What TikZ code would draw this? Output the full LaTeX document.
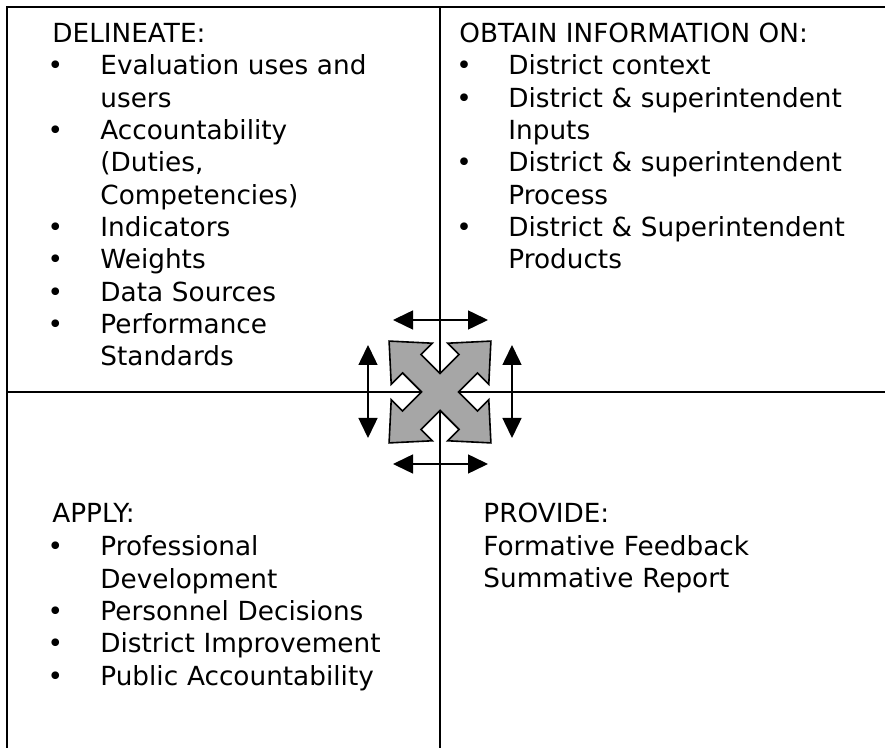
\documentclass[tikz,border=0pt]{standalone}
\usepackage{fontspec}
\setmainfont{DejaVu Sans}
\usetikzlibrary{arrows.meta}
\newlength{\bgap}
\newcommand{\qb}{\leavevmode\llap{•\hspace{\bgap}}}
\tikzset{
    heading/.style={
        anchor=base west, inner sep=0pt,
        font=\fontsize{13.15}{16.15}\selectfont
    },
    itemlist/.style={
        heading, text width=200pt, align=left,
        execute at begin node={\setlength{\bgap}{#1}}
    },
    gridline/.style={line width=1pt},
    swaparrow/.style={
        {Triangle[length=10pt,width=9.5pt]}-{Triangle[length=10pt,width=9.5pt]},
        line width=0.75pt
    },
    cross/.style={fill=gray!70, draw=black, line width=0.8pt}
}
\begin{document}
\begin{tikzpicture}[x=0.5pt, y=-0.5pt]
    \useasboundingbox (0,0) rectangle (885,748);

    % Frame and quadrant lines
    \coordinate (nw) at (7,7);
    \coordinate (ne) at (885,7);
    \coordinate (sw) at (7,748);
    \coordinate (midtop) at (440,7);
    \coordinate (midbot) at (440,748);
    \coordinate (midleft) at (7,392);
    \coordinate (midright) at (885,392);
    \draw[gridline] (sw) -- (nw) -- (ne);
    \draw[gridline] (midtop) -- (midbot);
    \draw[gridline] (midleft) -- (midright);

    % Top left
    \node[heading] (delineate) at (52,43) {DELINEATE:};
    \node[itemlist=18.6pt] (delineatelist) at (100,75)
        {\qb Evaluation uses and\\ users\\ \qb Accountability\\ (Duties,\\
         Competencies)\\ \qb Indicators\\ \qb Weights\\ \qb Data Sources\\
         \qb Performance\\ Standards};

    % Top right
    \node[heading] (obtain) at (459,43) {OBTAIN INFORMATION ON:};
    \node[itemlist=18.2pt] (obtainlist) at (508,75)
        {\qb District context\\ \qb District \& superintendent\\ Inputs\\
         \qb District \& superintendent\\ Process\\
         \qb District \& Superintendent\\ Products};

    % Bottom left
    \node[heading] (apply) at (52,523) {APPLY:};
    \node[itemlist=18.6pt] (applylist) at (100,556)
        {\qb Professional\\ Development\\ \qb Personnel Decisions\\
         \qb District Improvement\\ \qb Public Accountability};

    % Bottom right
    \node[itemlist=0pt] (provide) at (483,523)
        {PROVIDE:\\ Formative Feedback\\ Summative Report};

    % Centre cross
    \begin{scope}[shift={(440,392)}, rotate=45]
        \draw[cross] (40,-13) -- (40,-29) -- (72,0) -- (40,29) -- (40,13)
            -- (13,13) -- (13,40) -- (29,40) -- (0,72) -- (-29,40) -- (-13,40)
            -- (-13,13) -- (-40,13) -- (-40,29) -- (-72,0) -- (-40,-29)
            -- (-40,-13) -- (-13,-13) -- (-13,-40) -- (-29,-40) -- (0,-72)
            -- (29,-40) -- (13,-40) -- (13,-13) -- cycle;
    \end{scope}

    % Double arrows round the cross
    \coordinate (topl) at (393,320);
    \coordinate (topr) at (488,320);
    \coordinate (botl) at (393,464);
    \coordinate (botr) at (488,464);
    \coordinate (leftt) at (368,345);
    \coordinate (leftb) at (368,438);
    \coordinate (rightt) at (512,345);
    \coordinate (rightb) at (512,438);
    \draw[swaparrow] (topl) -- (topr);
    \draw[swaparrow] (botl) -- (botr);
    \draw[swaparrow] (leftt) -- (leftb);
    \draw[swaparrow] (rightt) -- (rightb);

\end{tikzpicture}
\end{document}
